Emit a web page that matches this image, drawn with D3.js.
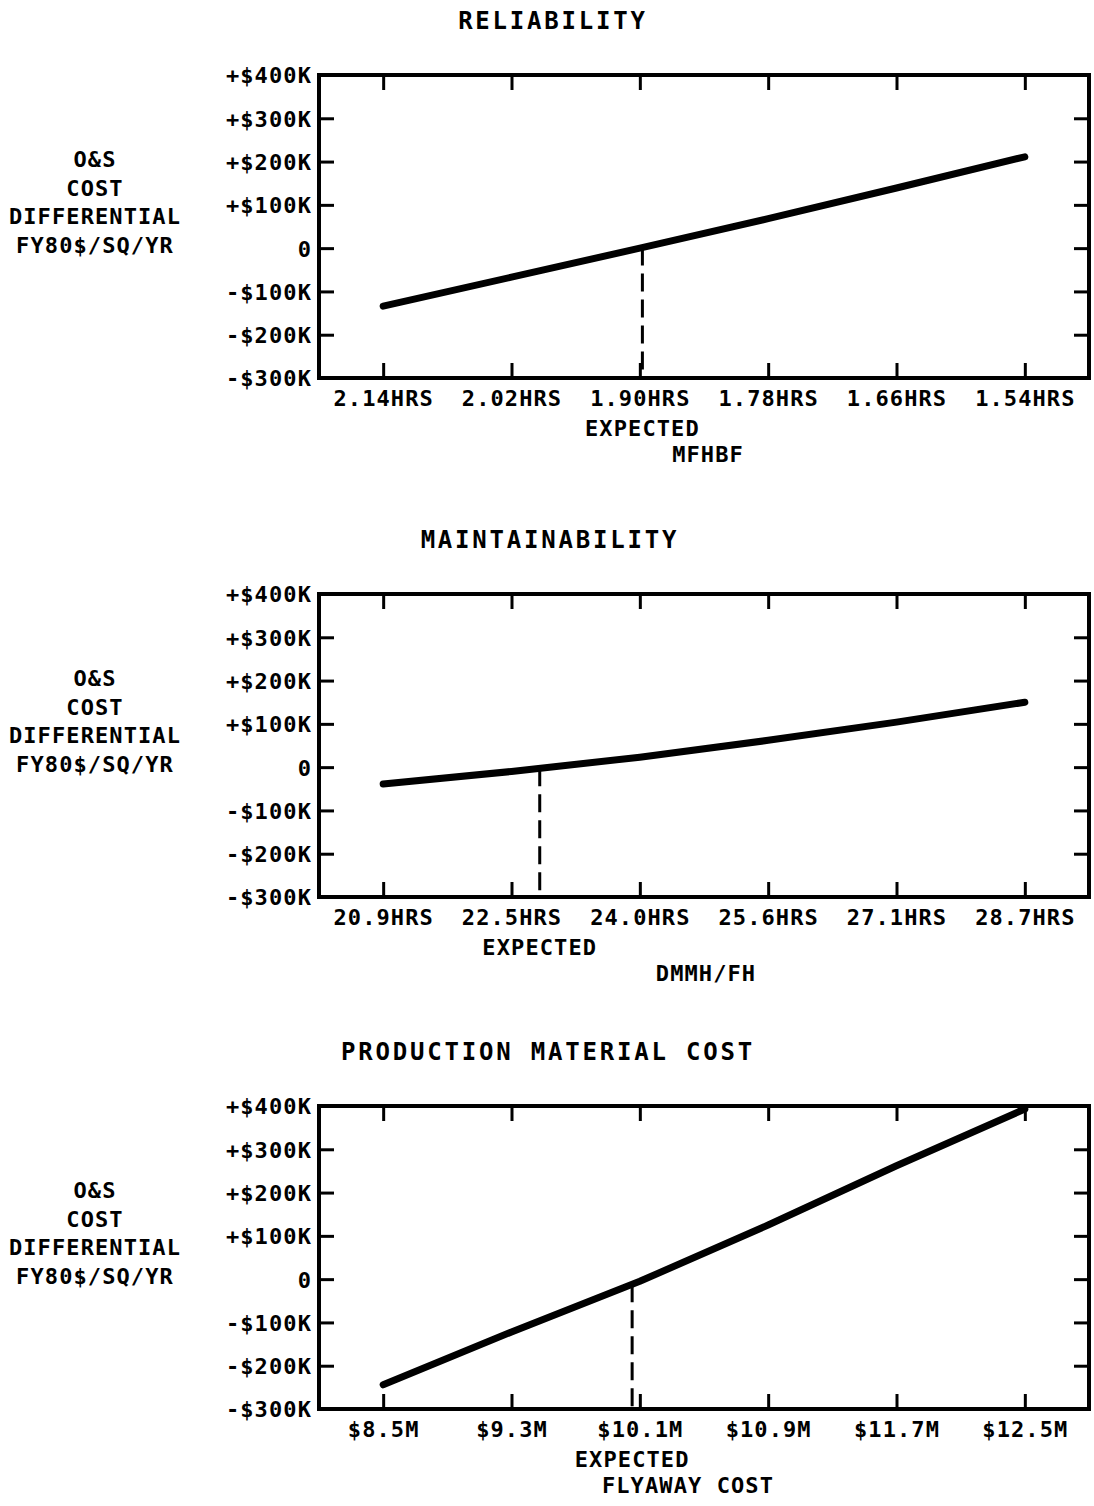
<!DOCTYPE html>
<html>
<head>
<meta charset="utf-8">
<script src="https://cdn.jsdelivr.net/npm/d3@7"></script>
<style>
  body { margin: 0; background: #fff; }
  svg text { font-family: "DejaVu Sans Mono", monospace; font-weight: bold; fill: #000; }
</style>
</head>
<body>
<div id="chart"></div>
<script>
// Shared y axis ($K, O&S cost differential)
const yTickValues = [-300, -200, -100, 0, 100, 200, 300, 400];
const yTickLabels = ["-$300K", "-$200K", "-$100K", "0", "+$100K", "+$200K", "+$300K", "+$400K"];
const yTitleLines = ["O&S", "COST", "DIFFERENTIAL", "FY80$/SQ/YR"];

// Reliability (MFHBF)
const relLabels = ["2.14HRS", "2.02HRS", "1.90HRS", "1.78HRS", "1.66HRS", "1.54HRS"];
const relValues = [-134, -67, 0, 68, 139, 211];
const relExpected = 2.02; // position on the tick index

// Maintainability (DMMH/FH)
const mntLabels = ["20.9HRS", "22.5HRS", "24.0HRS", "25.6HRS", "27.1HRS", "28.7HRS"];
const mntValues = [-39, -10, 23, 62, 104, 150];
const mntExpected = 1.22;

// Production material cost (flyaway cost)
const prdLabels = ["$8.5M", "$9.3M", "$10.1M", "$10.9M", "$11.7M", "$12.5M"];
const prdValues = [-244, -122, -5, 125, 262, 393];
const prdExpected = 1.94;

const width = 1094, height = 1506;
const labelSize = "22px", labelSpacing = "1.1px";

const svg = d3.select("#chart").append("svg")
    .attr("width", width)
    .attr("height", height);

function drawPanel(p) {
    const left = 319, right = 1089;
    const top = p.top, bottom = p.top + 303;

    const x = d3.scaleLinear().domain([-0.5, 5.5]).range([left, right]);
    const y = d3.scaleLinear().domain([-300, 400]).range([bottom, top]);
    const idx = d3.range(p.labels.length);

    const g = svg.append("g");

    // title
    g.append("text")
        .attr("x", p.titleX)
        .attr("y", top - 46)
        .attr("text-anchor", "middle")
        .attr("font-size", "24px")
        .attr("letter-spacing", "2.8px")
        .text(p.title);

    // y title, left side
    g.append("g").selectAll("text")
        .data(yTitleLines)
        .join("text")
        .attr("x", 95)
        .attr("y", (d, i) => top + 92 + i * 28.7)
        .attr("text-anchor", "middle")
        .attr("font-size", labelSize)
        .attr("letter-spacing", labelSpacing)
        .text(d => d);

    // axes with inward ticks
    const yLeft = g.append("g")
        .attr("transform", `translate(${left},0)`)
        .call(d3.axisLeft(y).tickValues(yTickValues)
            .tickFormat((d, i) => yTickLabels[i])
            .tickSizeInner(-15).tickSizeOuter(0).tickPadding(7));
    const yRight = g.append("g")
        .attr("transform", `translate(${right},0)`)
        .call(d3.axisRight(y).tickValues(yTickValues.slice(1, -1))
            .tickFormat("").tickSizeInner(-15).tickSizeOuter(0));
    const xBottom = g.append("g")
        .attr("transform", `translate(0,${bottom})`)
        .call(d3.axisBottom(x).tickValues(idx)
            .tickFormat(i => p.labels[i])
            .tickSizeInner(-15).tickSizeOuter(0).tickPadding(12));
    const xTop = g.append("g")
        .attr("transform", `translate(0,${top})`)
        .call(d3.axisTop(x).tickValues(idx)
            .tickFormat("").tickSizeInner(-15).tickSizeOuter(0));

    [yLeft, yRight, xBottom, xTop].forEach(a => {
        a.select(".domain").remove();
        a.selectAll("line").attr("stroke", "#000").attr("stroke-width", 3);
        a.selectAll("text")
            .attr("font-family", "DejaVu Sans Mono, monospace")
            .attr("font-weight", "bold")
            .attr("font-size", labelSize)
            .attr("letter-spacing", labelSpacing)
            .attr("fill", "#000");
    });
    yLeft.selectAll("text").attr("dy", "0.36em");
    xBottom.selectAll("text").attr("dy", "0.72em");

    // frame
    g.append("rect")
        .attr("x", left).attr("y", top)
        .attr("width", right - left).attr("height", bottom - top)
        .attr("fill", "none")
        .attr("stroke", "#000")
        .attr("stroke-width", 4);

    // expected marker: dashed drop line from the curve
    const i0 = Math.floor(p.expected);
    const ev = d3.interpolateNumber(p.values[i0], p.values[i0 + 1])(p.expected - i0);
    g.append("line")
        .attr("x1", x(p.expected)).attr("x2", x(p.expected))
        .attr("y1", y(ev)).attr("y2", bottom)
        .attr("stroke", "#000")
        .attr("stroke-width", 3)
        .attr("stroke-dasharray", "18,8");

    // curve
    g.append("path")
        .datum(p.values)
        .attr("fill", "none")
        .attr("stroke", "#000")
        .attr("stroke-width", 7)
        .attr("stroke-linecap", "round")
        .attr("stroke-linejoin", "round")
        .attr("d", d3.line().x((d, i) => x(i)).y(d => y(d)));

    // EXPECTED + axis name
    g.append("text")
        .attr("x", x(p.expected))
        .attr("y", bottom + 58)
        .attr("text-anchor", "middle")
        .attr("font-size", labelSize)
        .attr("letter-spacing", labelSpacing)
        .text("EXPECTED");
    g.append("text")
        .attr("x", p.nameX)
        .attr("y", bottom + 84)
        .attr("text-anchor", "middle")
        .attr("font-size", labelSize)
        .attr("letter-spacing", labelSpacing)
        .text(p.name);
}

drawPanel({ top: 75, title: "RELIABILITY", titleX: 553, labels: relLabels, values: relValues,
    expected: relExpected, name: "MFHBF", nameX: 708 });
drawPanel({ top: 594, title: "MAINTAINABILITY", titleX: 550, labels: mntLabels, values: mntValues,
    expected: mntExpected, name: "DMMH/FH", nameX: 706 });
drawPanel({ top: 1106, title: "PRODUCTION MATERIAL COST", titleX: 548, labels: prdLabels, values: prdValues,
    expected: prdExpected, name: "FLYAWAY COST", nameX: 688 });
</script>
</body>
</html>
